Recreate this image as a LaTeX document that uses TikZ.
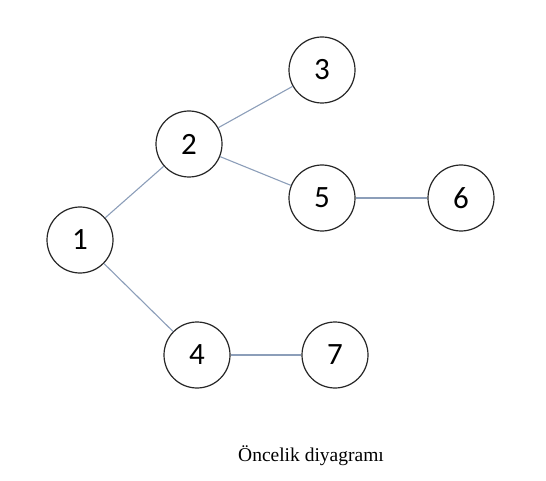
\documentclass[tikz,border=0pt]{standalone}
\usepackage{fontspec}
\setmainfont{Liberation Serif}
\newfontfamily\numfont{Carlito}
\begin{document}
\begin{tikzpicture}[x=1pt,y=-1pt,
  vertex/.style={circle,draw=black!85,line width=1.2pt,minimum size=66pt,inner sep=0pt,font=\numfont\fontsize{31}{31}\selectfont},
  edge/.style={draw={rgb,255:red,140;green,158;blue,185},line width=1.1pt}]
\useasboundingbox (0,0) rectangle (546,481);
\node[vertex] (n1) at (80,240) {1};
\node[vertex] (n2) at (189,144) {2};
\node[vertex] (n3) at (322,70) {3};
\node[vertex] (n5) at (322,198) {5};
\node[vertex] (n6) at (461,198) {6};
\node[vertex] (n4) at (197,355) {4};
\node[vertex] (n7) at (335,355) {7};
\draw[edge] (n1) -- (n2);
\draw[edge] (n2) -- (n3);
\draw[edge] (n2) -- (n5);
\draw[edge] (n5) -- (n6);
\draw[edge] (n1) -- (n4);
\draw[edge] (n4) -- (n7);
\node[font=\fontsize{19.5}{19.5}\selectfont] (cap) at (311,456) {Öncelik diyagramı};
\end{tikzpicture}
\end{document}
